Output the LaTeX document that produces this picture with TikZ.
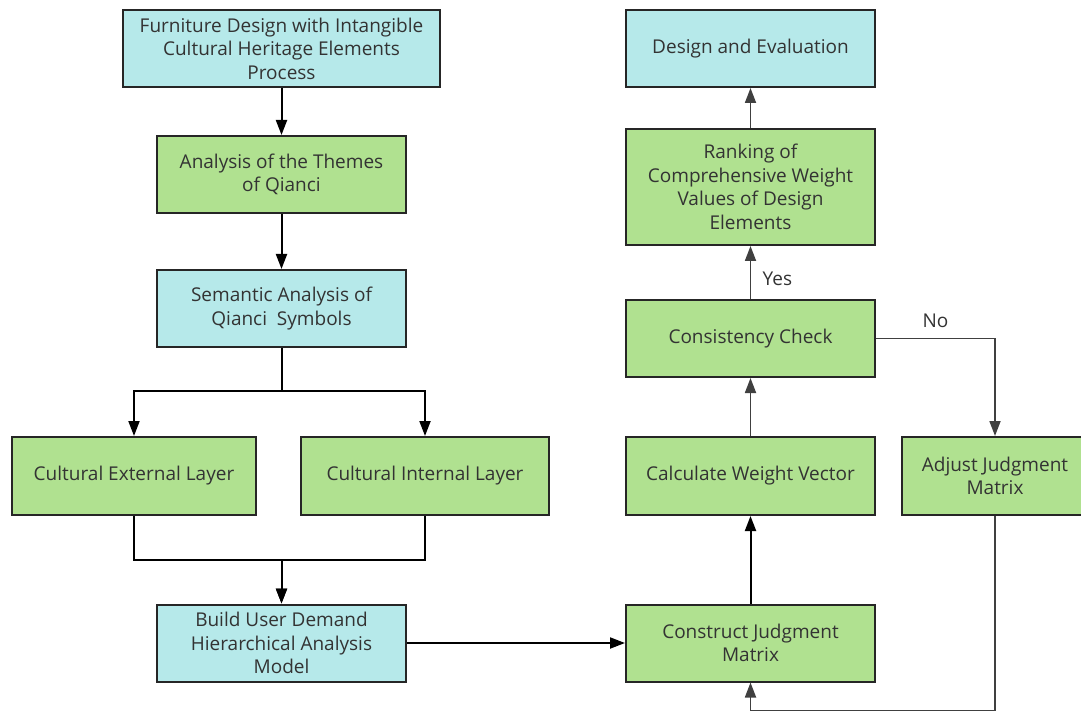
\documentclass[tikz,border=0pt]{standalone}
\usepackage{fontspec}
\setmainfont{Open Sans}
\usetikzlibrary{arrows.meta}
\definecolor{boxcyan}{RGB}{182,233,234}
\definecolor{boxgreen}{RGB}{176,225,144}
\definecolor{linegray}{RGB}{64,64,64}
\definecolor{textgray}{RGB}{51,51,51}

\begin{document}
\begin{tikzpicture}[node distance=134pt, >={Triangle[length=15pt,width=11pt]}, auto]

    \tikzstyle{cyanbox} = [rectangle, minimum width=249pt, minimum height=77pt, text centered, align=center, draw=black!85, line width=2pt, fill=boxcyan, text=textgray, font=\fontsize{19}{23.5}\selectfont]
    \tikzstyle{greenbox} = [cyanbox, fill=boxgreen]
    \tikzstyle{arrow} = [line width=2pt, ->]
    \tikzstyle{grayarrow} = [arrow, draw=linegray, line width=1.8pt]

    \useasboundingbox (0,0) rectangle (1081pt,-711pt);

    % Nodes
    \node (furn) [cyanbox, minimum width=317pt] at (281.5pt,-48.5pt) {Furniture Design with Intangible\\Cultural Heritage Elements\\Process};
    \node (themes) [greenbox, below of=furn, yshift=8pt] {Analysis of the Themes\\of Qianci};
    \node (semantic) [cyanbox, below of=themes] {Semantic Analysis of\\Qianci~~Symbols};
    \node (external) [greenbox, below of=semantic, xshift=-147.5pt, yshift=-33.5pt, minimum width=244pt, minimum height=78pt] {Cultural External Layer};
    \node (internal) [greenbox, right of=external, xshift=157pt, minimum width=248pt, minimum height=78pt] {Cultural Internal Layer};
    \node (build) [cyanbox, below of=semantic, yshift=-200.5pt] {Build User Demand\\Hierarchical Analysis\\Model};
    \node (construct) [greenbox, right of=build, xshift=335pt] {Construct Judgment\\Matrix};
    \node (calc) [greenbox, above of=construct, yshift=33pt, minimum height=78pt] {Calculate Weight Vector};
    \node (consist) [greenbox, above of=calc, yshift=3.5pt] {Consistency Check};
    \node (ranking) [greenbox, above of=consist, yshift=17.5pt, minimum height=116pt] {Ranking of\\Comprehensive Weight\\Values of Design\\Elements};
    \node (design) [cyanbox, above of=ranking, yshift=4.5pt] {Design and Evaluation};
    \node (adjust) [greenbox, right of=calc, xshift=110.5pt, minimum width=186pt, minimum height=78pt] {Adjust Judgment\\Matrix};

    % Arrows
    \draw [arrow] (furn) -- (themes);
    \draw [arrow] (themes) -- (semantic);
    \draw [arrow] (semantic.south) |- ([yshift=45pt]external.north) -- (external.north);
    \draw [arrow] (semantic.south) |- ([yshift=45pt]internal.north) -- (internal.north);
    \draw [arrow] (external.south) |- ([yshift=44pt]build.north) -- (build.north);
    \draw [arrow] (internal.south) |- ([yshift=44pt]build.north) -- (build.north);
    \draw [arrow] (build) -- (construct);
    \draw [arrow] (construct) -- (calc);
    \draw [grayarrow] (calc) -- (consist);
    \draw [grayarrow] (consist) -- node[right, xshift=8pt, yshift=-6pt, text=textgray, font=\fontsize{19}{20}\selectfont] {Yes} (ranking);
    \draw [grayarrow] (ranking) -- (design);
    \draw [grayarrow] (consist.east) -| node[pos=0.25, above, yshift=7pt, text=textgray, font=\fontsize{19}{20}\selectfont] {No} (adjust.north);
    \draw [grayarrow] (adjust.south) |- ([yshift=-28pt]construct.south) -- (construct.south);

\end{tikzpicture}
\end{document}
